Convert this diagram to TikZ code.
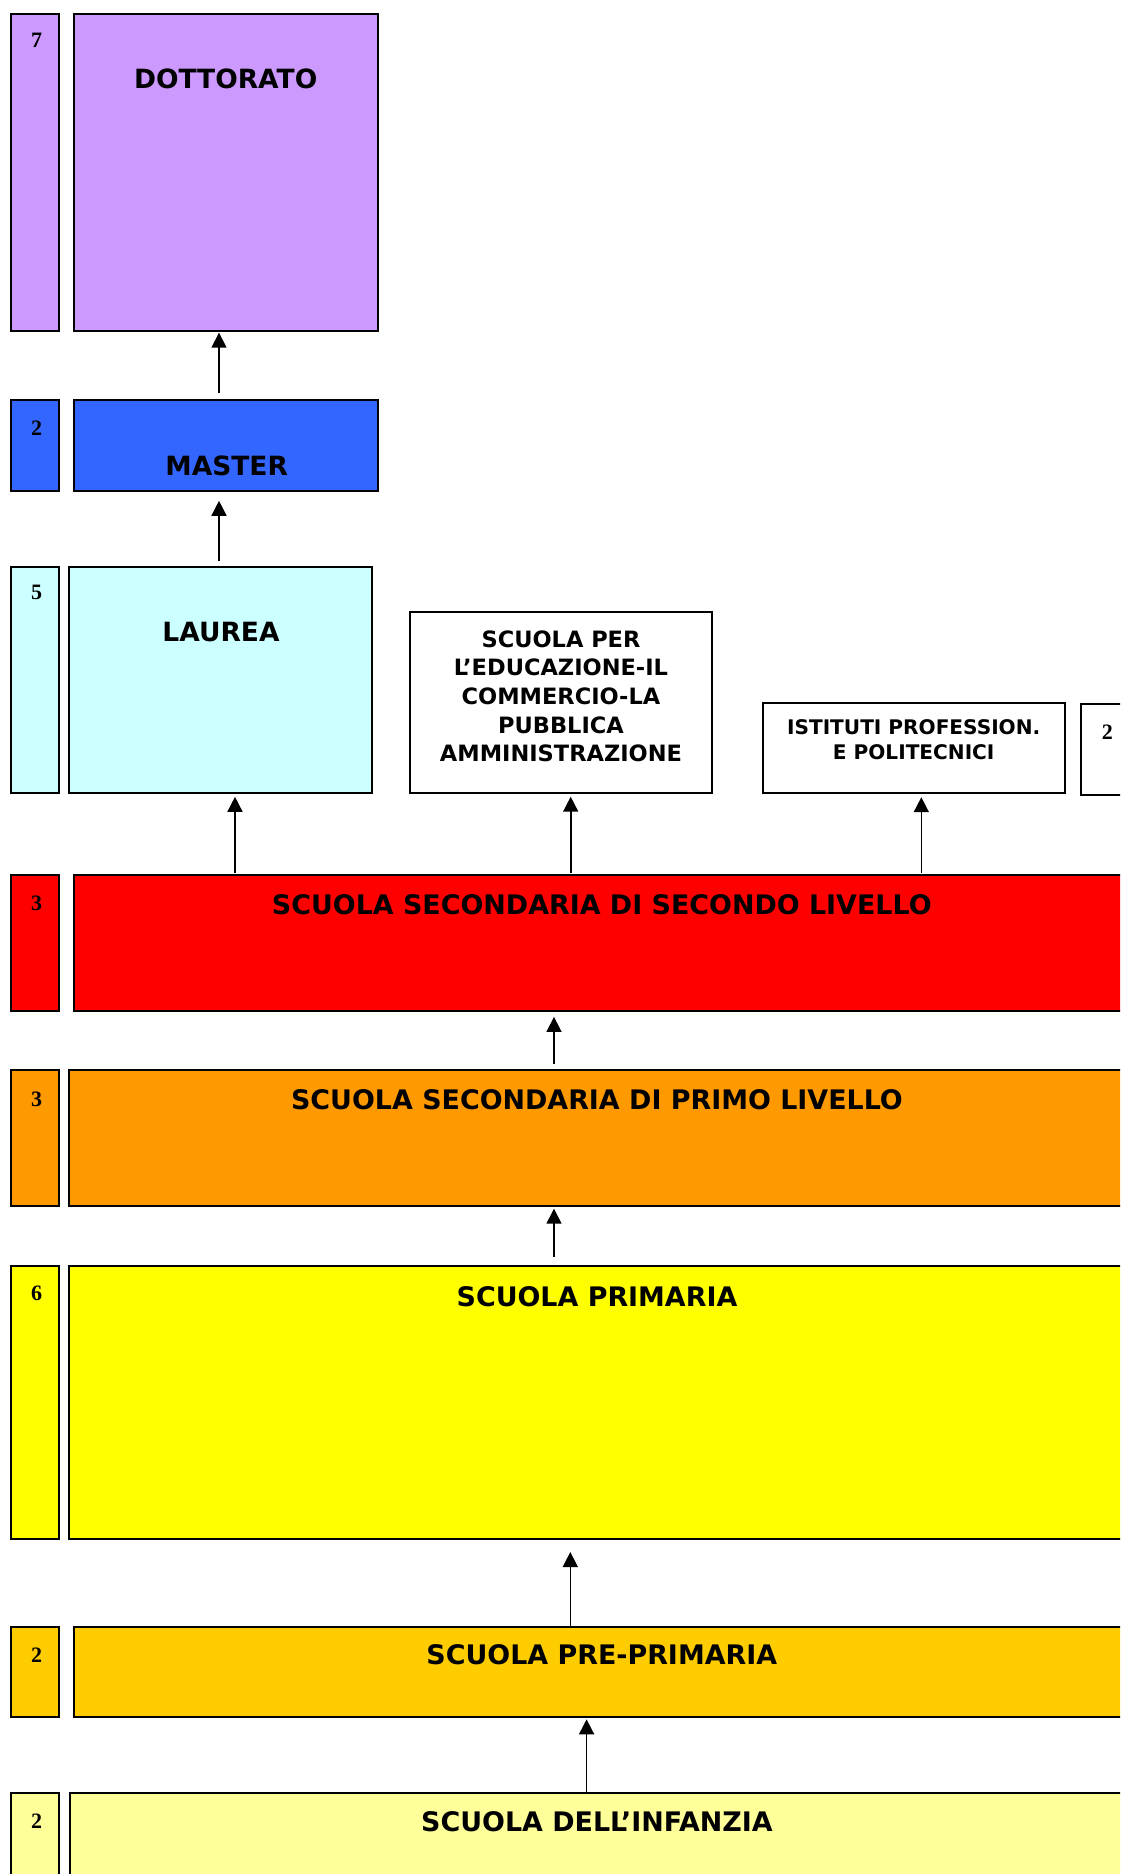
\documentclass[tikz,border=0pt]{standalone}
\usepackage{fontspec}
\usetikzlibrary{arrows.meta}
\newfontfamily\titlefont{DejaVu Sans}
\newfontfamily\numfont{Liberation Serif}

\definecolor{lilla}{HTML}{CC99FF}
\definecolor{blu}{HTML}{3366FF}
\definecolor{celeste}{HTML}{CCFFFF}
\definecolor{rosso}{HTML}{FF0000}
\definecolor{arancio}{HTML}{FF9900}
\definecolor{giallo}{HTML}{FFFF00}
\definecolor{ocra}{HTML}{FFCC00}
\definecolor{crema}{HTML}{FFFF99}

\tikzset{
  box/.style={draw=black, line width=2pt, anchor=north west, inner sep=0pt, outer sep=0pt},
  anni/.style={font=\numfont\bfseries\fontsize{22}{22}\selectfont},
  titolo/.style={font=\titlefont\bfseries\fontsize{26.5}{30}\selectfont},
  fascia/.style={font=\titlefont\bfseries\fontsize{26.9}{30}\selectfont},
  freccia/.style={-{Triangle[width=15pt,length=15pt]}, line width=1.6pt},
}

\begin{document}
\begin{tikzpicture}[x=1pt, y=-1pt]
    \useasboundingbox (0,0) rectangle (1120,1874);
    \clip (0,0) rectangle (1120,1874);

    % dottorato
    \node (n7) [box, fill=lilla, minimum width=48pt, minimum height=316.7pt] at (10.7,14.3) {};
    \node (dott) [box, fill=lilla, minimum width=303.5pt, minimum height=316.7pt] at (74.2,14.3) {};
    \node (a7) [anni] at (36.7,40.7) {7};
    \node (tdott) [titolo] at (225.7,79.3) {DOTTORATO};

    % master
    \node (n2m) [box, fill=blu, minimum width=48pt, minimum height=91pt] at (10.7,400.4) {};
    \node (master) [box, fill=blu, minimum width=303.5pt, minimum height=91pt] at (74.2,400.4) {};
    \node (a2m) [anni] at (36.7,428) {2};
    \node (tmaster) [titolo] at (226.7,465.7) {MASTER};

    % laurea e altri corsi
    \node (n5) [box, fill=celeste, minimum width=48pt, minimum height=226pt] at (10.7,566.6) {};
    \node (laurea) [box, fill=celeste, minimum width=302.4pt, minimum height=226pt] at (69.3,566.6) {};
    \node (a5) [anni] at (36.7,592.7) {5};
    \node (tlaurea) [titolo] at (221,631.7) {LAUREA};

    \node (scuolaper) [box, fill=white, minimum width=302.4pt, minimum height=180.5pt] at (410,612) {};
    \node (tscuolaper) [font=\titlefont\bfseries\fontsize{22.5}{28.6}\selectfont, align=center] at (561,696.2)
        {SCUOLA PER\\L’EDUCAZIONE-IL\\COMMERCIO-LA\\PUBBLICA\\AMMINISTRAZIONE};

    \node (istituti) [box, fill=white, minimum width=302.5pt, minimum height=90.5pt] at (762.7,702.5) {};
    \node (tistituti) [font=\titlefont\bfseries\fontsize{20.1}{25.6}\selectfont, align=center] at (913.7,739.5)
        {ISTITUTI PROFESSION.\\E POLITECNICI};
    \node (n2i) [box, fill=white, minimum width=60pt, minimum height=90.7pt] at (1081,704.3) {};
    \node (a2i) [anni] at (1107.3,732.7) {2};

    % fasce
    \node (n3s) [box, fill=rosso, minimum width=48pt, minimum height=136.2pt] at (10.7,875) {};
    \node (sec2) [box, fill=rosso, minimum width=1056pt, minimum height=136.2pt] at (74.2,875) {};
    \node (a3s) [anni] at (36.7,903.5) {3};
    \node (tsec2) [fascia] at (601.8,905) {SCUOLA SECONDARIA DI SECONDO LIVELLO};

    \node (n3p) [box, fill=arancio, minimum width=48pt, minimum height=136pt] at (10.7,1070.4) {};
    \node (sec1) [box, fill=arancio, minimum width=1056pt, minimum height=136pt] at (69.3,1070.4) {};
    \node (a3p) [anni] at (36.7,1099) {3};
    \node (tsec1) [fascia] at (597,1100) {SCUOLA SECONDARIA DI PRIMO LIVELLO};

    \node (n6) [box, fill=giallo, minimum width=48pt, minimum height=272.2pt] at (10.7,1266.4) {};
    \node (prim) [box, fill=giallo, minimum width=1056pt, minimum height=272.2pt] at (69.3,1266.4) {};
    \node (a6) [anni] at (36.7,1293.6) {6};
    \node (tprim) [fascia] at (597,1296.4) {SCUOLA PRIMARIA};

    \node (n2p) [box, fill=ocra, minimum width=48pt, minimum height=90pt] at (10.7,1626.7) {};
    \node (preprim) [box, fill=ocra, minimum width=1056pt, minimum height=90pt] at (74.2,1626.7) {};
    \node (a2p) [anni] at (36.7,1655) {2};
    \node (tpreprim) [fascia] at (601.8,1655) {SCUOLA PRE-PRIMARIA};

    \node (n2d) [box, fill=crema, minimum width=48pt, minimum height=120pt] at (10.7,1793.3) {};
    \node (infanzia) [box, fill=crema, minimum width=1056pt, minimum height=120pt] at (70,1793.3) {};
    \node (a2d) [anni] at (36.7,1821.5) {2};
    \node (tinfanzia) [fascia] at (597,1821.7) {SCUOLA DELL’INFANZIA};

    % frecce
    \coordinate (xm) at (219,0);
    \coordinate (xl) at (235,0);
    \coordinate (xs) at (570.7,0);
    \coordinate (xi) at (921.3,0);
    \coordinate (xc) at (554,0);
    \coordinate (xp) at (570.3,0);
    \coordinate (xd) at (586.6,0);
    \draw[freccia, shorten <=7.4pt, shorten >=1.7pt] (master.north -| xm) -- (dott.south -| xm);
    \draw[freccia, shorten <=6pt, shorten >=9.4pt] (laurea.north -| xm) -- (master.south -| xm);
    \draw[freccia, shorten <=2pt, shorten >=4.2pt] (sec2.north -| xl) -- (laurea.south -| xl);
    \draw[freccia, shorten <=2pt, shorten >=4.2pt] (sec2.north -| xs) -- (scuolaper.south -| xs);
    \draw[freccia, shorten <=2pt, shorten >=4.2pt] (sec2.north -| xi) -- (istituti.south -| xi);
    \draw[freccia, shorten <=6.7pt, shorten >=5.7pt] (sec1.north -| xc) -- (sec2.south -| xc);
    \draw[freccia, shorten <=9.4pt, shorten >=2.3pt] (prim.north -| xc) -- (sec1.south -| xc);
    \draw[freccia, shorten <=0.7pt, shorten >=13.4pt] (preprim.north -| xp) -- (prim.south -| xp);
    \draw[freccia, shorten >=2.6pt] (infanzia.north -| xd) -- (preprim.south -| xd);
\end{tikzpicture}
\end{document}
